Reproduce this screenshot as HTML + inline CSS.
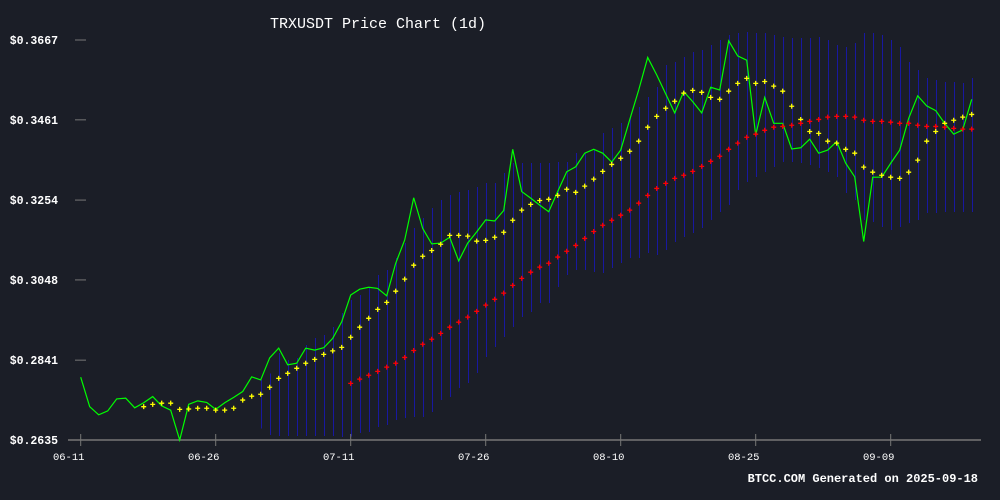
<!DOCTYPE html>
<html><head><meta charset="utf-8"><style>
html,body{margin:0;padding:0;background:#1b1e27;}
svg{display:block;}
text{font-family:"Liberation Mono","DejaVu Sans Mono",monospace;fill:#fff;}
</style></head><body>
<svg id="chart" width="1000" height="500">
<rect width="1000" height="500" fill="#1b1e27"/>
<text x="378" y="28" font-size="15" text-anchor="middle">TRXUSDT Price Chart (1d)</text>
<text x="978" y="482" font-size="12" font-weight="bold" text-anchor="end">BTCC.COM Generated on 2025-09-18</text>
<g id="bands" shape-rendering="crispEdges"></g>
<g id="axes"></g>
<g id="closeg"></g>
<g id="ma1g"></g>
<g id="ma2g"></g>
</svg>
<script>
const xTickLabels=['06-11','06-26','07-11','07-26','08-10','08-25','09-09'];
const xTickDays=[0,15,30,45,60,75,90];
const yTickValues=[0.2635,0.2841,0.3048,0.3254,0.3461,0.3667];
const closes=[0.2797,0.2721,0.2700,0.2710,0.2741,0.2743,0.2718,0.2731,0.2747,0.2723,0.2712,0.2635,0.2727,0.2736,0.2732,0.2714,0.2731,0.2745,0.2760,0.2798,
0.2790,0.2847,0.2872,0.2829,0.2833,0.2872,0.2867,0.2873,0.2897,0.2940,0.3009,0.3024,0.3029,0.3026,0.3007,0.3091,0.3151,0.3260,0.3181,0.3141,
0.3143,0.3158,0.3097,0.3143,0.3172,0.3203,0.3200,0.3227,0.3385,0.3276,0.3259,0.3241,0.3224,0.3276,0.3327,0.3340,0.3375,0.3385,0.3375,0.3352,
0.3383,0.3461,0.3538,0.3622,0.3577,0.3528,0.3479,0.3534,0.3508,0.3479,0.3545,0.3538,0.3665,0.3626,0.3615,0.3422,0.3519,0.3452,0.3452,0.3386,
0.3389,0.3411,0.3375,0.3383,0.3405,0.3349,0.3314,0.3147,0.3313,0.3313,0.3349,0.3383,0.3465,0.3523,0.3497,0.3485,0.3452,0.3424,0.3435,0.3514];
const maFastStart=7;
const maFast=[0.2721,0.2727,0.2730,0.2730,0.2714,0.2715,0.2717,0.2717,0.2712,0.2712,0.2717,0.2738,0.2748,0.2753,0.2771,0.2794,0.2807,0.2820,0.2833,0.2843,
0.2856,0.2865,0.2874,0.2900,0.2926,0.2949,0.2972,0.2990,0.3019,0.3050,0.3086,0.3109,0.3124,0.3140,0.3163,0.3163,0.3161,0.3148,0.3150,0.3158,
0.3171,0.3202,0.3228,0.3243,0.3253,0.3256,0.3266,0.3282,0.3274,0.3290,0.3308,0.3328,0.3346,0.3362,0.3380,0.3406,0.3442,0.3470,0.3491,0.3509,
0.3530,0.3537,0.3532,0.3519,0.3514,0.3535,0.3555,0.3568,0.3555,0.3560,0.3548,0.3535,0.3496,0.3462,0.3431,0.3426,0.3406,0.3401,0.3385,0.3375,
0.3339,0.3326,0.3318,0.3313,0.3310,0.3326,0.3357,0.3406,0.3431,0.3452,0.3460,0.3468,0.3475];
const maSlowStart=30;
const maSlow=[0.2781,0.2792,0.2802,0.2812,0.2823,0.2833,0.2848,0.2866,0.2882,0.2895,0.2910,0.2926,0.2939,0.2952,0.2967,0.2983,0.2998,0.3014,0.3034,0.3052,
0.3068,0.3081,0.3091,0.3107,0.3122,0.3137,0.3155,0.3173,0.3189,0.3202,0.3215,0.3228,0.3246,0.3266,0.3284,0.3297,0.3310,0.3318,0.3328,0.3341,
0.3354,0.3367,0.3385,0.3401,0.3416,0.3424,0.3434,0.3442,0.3444,0.3447,0.3452,0.3457,0.3462,0.3468,0.3470,0.3470,0.3468,0.3460,0.3457,0.3457,
0.3455,0.3452,0.3452,0.3447,0.3444,0.3444,0.3442,0.3439,0.3437,0.3437];
const bandStart=20;
const bandUpper=[0.2790,0.2807,0.2859,0.2841,0.2847,0.2880,0.2898,0.2906,0.2927,0.2963,0.2996,0.3009,0.3030,0.3061,0.3074,0.3105,0.3143,0.3182,0.3208,0.3234,
0.3254,0.3267,0.3275,0.3280,0.3288,0.3298,0.3298,0.3324,0.3350,0.3350,0.3350,0.3350,0.3350,0.3352,0.3352,0.3376,0.3376,0.3383,0.3427,0.3440,
0.3453,0.3468,0.3494,0.3520,0.3546,0.3603,0.3610,0.3623,0.3636,0.3641,0.3654,0.3667,0.3680,0.3685,0.3688,0.3685,0.3685,0.3680,0.3675,0.3672,
0.3672,0.3672,0.3675,0.3667,0.3654,0.3649,0.3659,0.3685,0.3685,0.3680,0.3667,0.3649,0.3610,0.3590,0.3569,0.3564,0.3559,0.3559,0.3556,0.3569];
const bandLower=[0.2665,0.2648,0.2645,0.2645,0.2645,0.2645,0.2645,0.2645,0.2645,0.2643,0.2644,0.2653,0.2656,0.2669,0.2674,0.2687,0.2692,0.2694,0.2694,0.2707,
0.2738,0.2746,0.2769,0.2782,0.2808,0.2849,0.2875,0.2901,0.2927,0.2952,0.2965,0.2988,0.2988,0.3030,0.3061,0.3074,0.3074,0.3068,0.3066,0.3079,
0.3092,0.3105,0.3105,0.3117,0.3112,0.3125,0.3146,0.3159,0.3169,0.3182,0.3203,0.3223,0.3241,0.3280,0.3301,0.3314,0.3326,0.3339,0.3352,0.3352,
0.3350,0.3345,0.3337,0.3326,0.3314,0.3272,0.3254,0.3203,0.3197,0.3185,0.3177,0.3185,0.3195,0.3203,0.3221,0.3221,0.3223,0.3223,0.3223,0.3223];

const NS='http://www.w3.org/2000/svg';
const X0=80.7, DX=9.0, YMIN=0.2635, YMAX=0.3667, YB=440, YT=40;
function xs(d){return X0+d*DX;}
function ys(v){return YB-(v-YMIN)/(YMAX-YMIN)*(YB-YT);}
function mk(tag,attrs,parent){const e=document.createElementNS(NS,tag);for(const k in attrs)e.setAttribute(k,attrs[k]);parent.appendChild(e);return e;}

const bands=document.getElementById('bands');
for(let i=0;i<bandUpper.length;i++){
  const bx=Math.round(xs(bandStart+i));
  const yt=ys(bandUpper[i]), yb=ys(bandLower[i]);
  const l=mk('rect',{x:bx,y:yt,width:1,height:yb-yt,fill:'#1818a0'},bands);
  
  
}

const axes=document.getElementById('axes');
const ax=mk('line',{x1:68,x2:981,y1:440,y2:440,stroke:'#777','stroke-width':1.5},axes);


yTickValues.forEach(v=>{
  const y=ys(v);
  const t=mk('line',{x1:75,x2:86,y1:y,y2:y,stroke:'#777','stroke-width':1},axes);
  
  
  const tx=mk('text',{x:58,y:y+4,'font-size':11.5,'font-weight':'bold','text-anchor':'end'},axes);
  tx.textContent='$'+v.toFixed(4);
  
  
});
xTickDays.forEach((d,i)=>{
  const x=xs(d);
  const t=mk('line',{x1:x,x2:x,y1:434,y2:446,stroke:'#777','stroke-width':1},axes);
  
  
  const tx=mk('text',{x:x-12,y:460,'font-size':10.5,'text-anchor':'middle'},axes);
  tx.textContent=xTickLabels[i];
  
  
});

const cg=document.getElementById('closeg');
const pl=mk('polyline',{points:closes.map((v,i)=>xs(i)+','+ys(v)).join(' '),fill:'none',stroke:'#00ff00','stroke-width':1.2},cg);



function plus(g,x,y,col,name){
  const p=mk('path',{d:`M${x-2.5},${y}h5M${x},${y-2.5}v5`,stroke:col,'stroke-width':1.3},g);
  
  
}
const g1=document.getElementById('ma1g');
maFast.forEach((v,i)=>plus(g1,xs(maFastStart+i),ys(v),'#ffff00','ma-yellow-point'));
const g2=document.getElementById('ma2g');
maSlow.forEach((v,i)=>plus(g2,xs(maSlowStart+i),ys(v),'#ff0000','ma-red-point'));
</script>
</body></html>
